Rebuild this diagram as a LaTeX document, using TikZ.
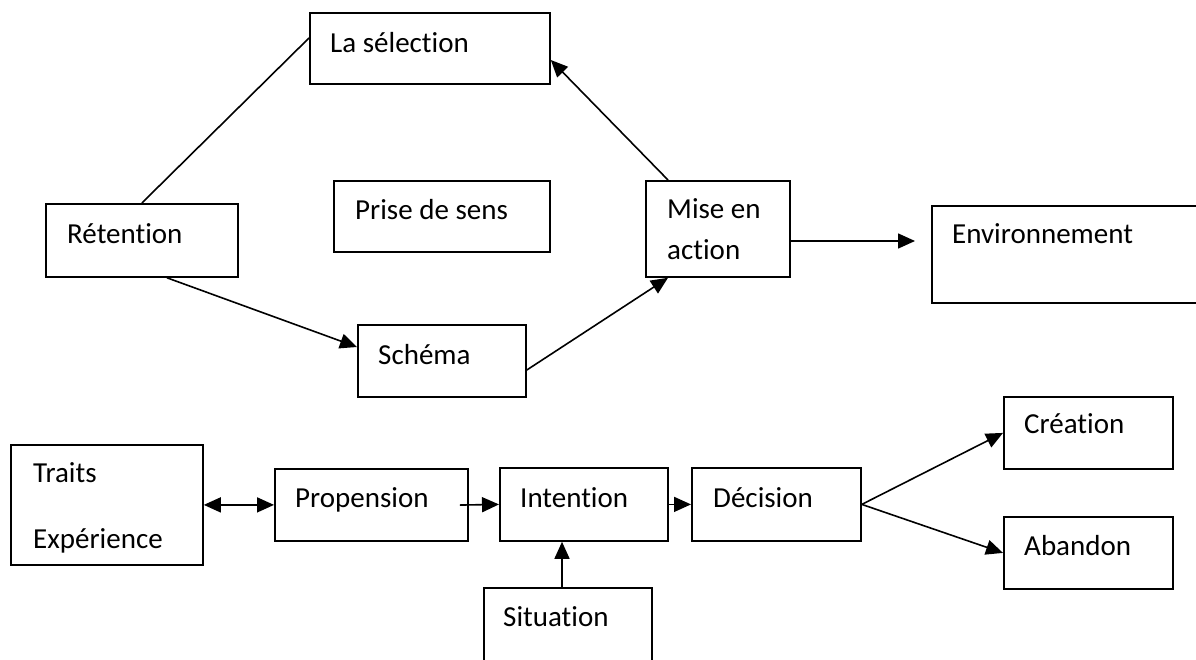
\documentclass[tikz,border=0pt]{standalone}
\usepackage{fontspec}
\setmainfont{Carlito}[Ligatures=NoCommon]
\usetikzlibrary{arrows.meta,calc}
\begin{document}
\begin{tikzpicture}[x=1pt,y=-1pt,
  box/.style={draw,line width=1.8pt,inner sep=0pt,anchor=north west},
  txt/.style={anchor=base west,inner sep=0pt,font=\fontsize{29}{34}\selectfont},
  link/.style={line width=1.6pt},
  arr/.style={link,-{Triangle[length=17pt,width=15pt]}},
  darr/.style={link,{Triangle[length=17pt,width=15pt]}-{Triangle[length=17pt,width=15pt]}}]
\clip (0,0) rectangle (1196,659);
\fill[white] (0,0) rectangle (1196,659);

% upper cycle
\node[box,minimum width=240pt,minimum height=71pt] (sel) at (309,12) {};
\node[txt] at (330,52) {La sélection};
\node[box,minimum width=192pt,minimum height=73pt] (ret) at (45,203) {};
\node[txt] at (67,243) {Rétention};
\node[box,minimum width=216pt,minimum height=71pt] (prise) at (333,180) {};
\node[txt] at (355,219) {Prise de sens};
\node[box,minimum width=144pt,minimum height=96pt] (mise) at (645,180) {};
\node[txt] at (667,218) {Mise en};
\node[txt] at (667,259) {action};
\node[box,minimum width=290pt,minimum height=97pt] (env) at (931,205) {};
\node[txt] at (952,243) {Environnement};
\node[box,minimum width=168pt,minimum height=72pt] (sch) at (357,324) {};
\node[txt] at (378,364) {Schéma};

% lower chain
\node[box,minimum width=192pt,minimum height=120pt] (traits) at (10,444) {};
\node[txt] at (33,482) {Traits};
\node[txt] at (33,548) {Expérience};
\node[box,minimum width=193pt,minimum height=72pt] (prop) at (274,468) {};
\node[txt] at (295,507) {Propension};
\node[box,minimum width=168pt,minimum height=73pt] (int) at (499,467) {};
\node[txt] at (520,507) {Intention};
\node[box,minimum width=169pt,minimum height=73pt] (dec) at (691,467) {};
\node[txt] at (713,507) {Décision};
\node[box,minimum width=169pt,minimum height=72pt] (crea) at (1003,396) {};
\node[txt] at (1024,433) {Création};
\node[box,minimum width=169pt,minimum height=72pt] (aban) at (1003,516) {};
\node[txt] at (1024,555) {Abandon};
\node[box,minimum width=168pt,minimum height=110pt] (sit) at (483,587) {};
\node[txt] at (503,626) {Situation};

% connectors of the cycle
\draw[link] (ret.north) -- ($(sel.north west)+(0,26)$);
\draw[arr] ($(mise.north west)+(23,0)$) -- ($(sel.north east)+(0,48)$);
\draw[arr] ($(ret.south west)+(122,0)$) -- ($(sch.north west)+(0,23)$);
\draw[arr] ($(sch.north east)+(0,46)$) -- ($(mise.south west)+(23,0)$);
\coordinate (miseout) at ($(mise.north east)+(0,61)$);
\draw[arr,shorten >=16pt] (miseout) -- (miseout -| env.west);

% connectors of the chain
\draw[darr] (traits.east) -- (prop.west);
\draw[arr,shorten <=-9pt] (prop.east) -- (int.west);
\draw[arr] (int.east) -- (dec.west);
\draw[arr] (dec.east) -- (crea.west);
\draw[arr] (dec.east) -- (aban.west);
\draw[arr] ($(sit.north west)+(79,0)$) -- ($(int.south west)+(63,0)$);
\end{tikzpicture}
\end{document}
